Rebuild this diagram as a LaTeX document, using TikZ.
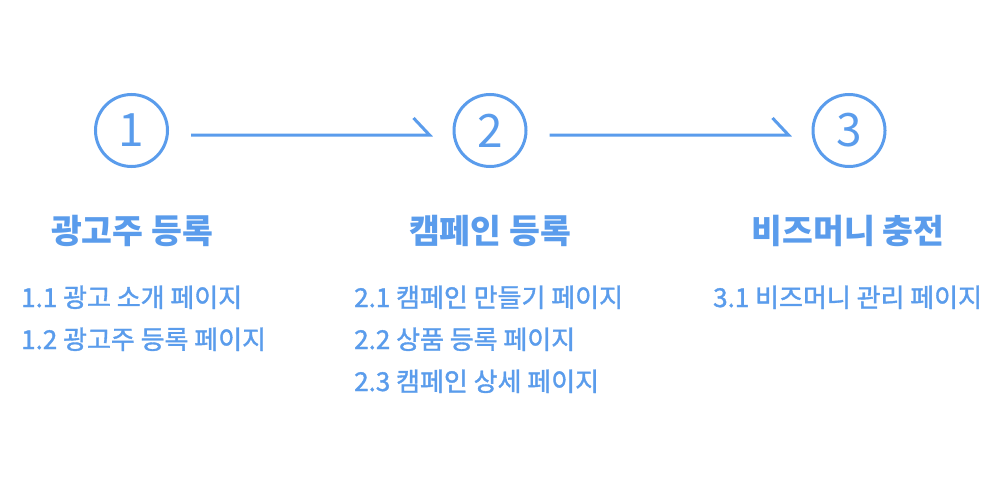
\documentclass[tikz,border=0pt]{standalone}
\usepackage{fontspec}
\setmainfont{Noto Sans CJK KR}
\newfontfamily\medfont[FakeBold=1.4]{Noto Sans CJK KR}
\usetikzlibrary{calc}
\definecolor{blu}{RGB}{90,156,236}
\begin{document}
\begin{tikzpicture}[x=1pt,y=-1pt,
  stepnum/.style={circle,draw=blu,line width=3pt,minimum size=72pt,inner sep=0pt,text=blu,font=\fontsize{46}{46}\selectfont},
  title/.style={anchor=base,text=blu,inner sep=0pt,font=\fontsize{33.5}{33.5}\selectfont\bfseries},
  item/.style={anchor=base west,text=blu,inner sep=0pt,font=\medfont\fontsize{26}{26}\selectfont},
  conn/.style={draw=blu,line width=3pt,line join=miter}]
\useasboundingbox[fill=white] (0,0) rectangle (1000,500);
\node[stepnum] (c1) at (131.5,130.5) {1};
\node[stepnum] (c2) at (490,130.5) {2};
\node[stepnum] (c3) at (849,130.5) {3};
\draw[conn] ($(c1.east)+(22,4.5)$) -- ($(c2.west)+(-23,4.5)$) -- ++(-16,-17);
\draw[conn] ($(c2.east)+(22,4.5)$) -- ($(c3.west)+(-23,4.5)$) -- ++(-16,-17);
\node[title] (t1) at (132,243) {광고주 등록};
\node[title] (t2) at (490,243) {캠페인 등록};
\node[title] (t3) at (848,243) {비즈머니 충전};
\node[item] (i11) at (21,307) {1.1 광고 소개 페이지};
\node[item] (i12) at (21,349) {1.2 광고주 등록 페이지};
\node[item] (i21) at (354,307) {2.1 캠페인 만들기 페이지};
\node[item] (i22) at (354,349) {2.2 상품 등록 페이지};
\node[item] (i23) at (354,391) {2.3 캠페인 상세 페이지};
\node[item] (i31) at (713,307) {3.1 비즈머니 관리 페이지};
\end{tikzpicture}
\end{document}
